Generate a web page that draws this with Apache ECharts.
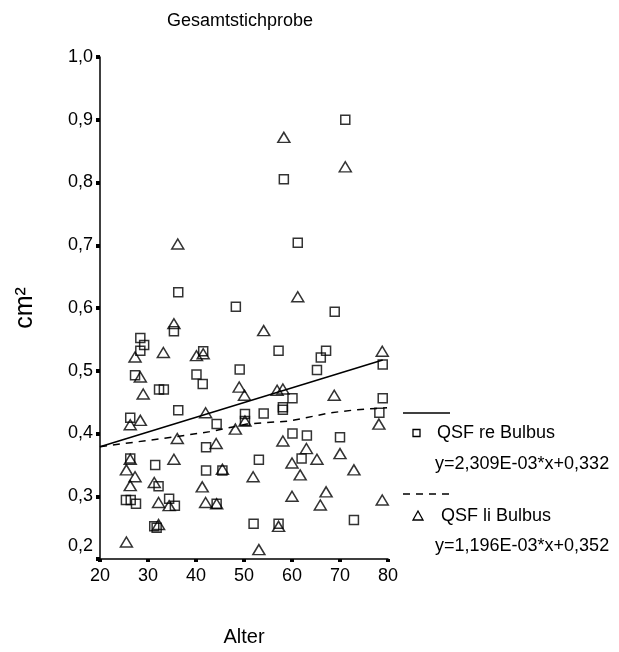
<!DOCTYPE html>
<html><head><meta charset="utf-8">
<script src="https://cdn.jsdelivr.net/npm/echarts@6/dist/echarts.min.js"></script>
<style>html,body{margin:0;padding:0;background:#fff}#c{width:619px;height:652px}</style>
</head><body><div id="c"></div>
<script>
var xTicks = [20, 30, 40, 50, 60, 70, 80];
var yTicks = [0.2, 0.3, 0.4, 0.5, 0.6, 0.7, 0.8, 0.9, 1.0];
var reBulbus = [[71.1,0.900],[58.3,0.805],[36.3,0.625],[48.3,0.602],[35.4,0.563],[28.4,0.552],[29.2,0.541],[28.4,0.532],[41.5,0.531],[49.1,0.502],[27.3,0.493],[40.1,0.494],[41.4,0.479],[32.3,0.470],[33.3,0.470],[61.2,0.704],[68.9,0.594],[57.2,0.532],[67.1,0.532],[66.0,0.521],[65.2,0.501],[78.9,0.510],[36.3,0.437],[26.3,0.425],[44.3,0.415],[50.2,0.431],[50.2,0.420],[42.1,0.378],[26.3,0.360],[31.5,0.350],[42.1,0.341],[45.5,0.341],[32.2,0.316],[25.4,0.294],[26.4,0.294],[27.5,0.288],[34.4,0.296],[35.6,0.285],[44.3,0.288],[31.3,0.252],[31.8,0.250],[60.1,0.456],[78.9,0.456],[58.1,0.442],[58.1,0.438],[54.1,0.432],[78.2,0.433],[60.1,0.400],[63.1,0.397],[70.0,0.394],[62.0,0.360],[53.1,0.358],[52.0,0.256],[57.2,0.256],[72.9,0.262]];
var liBulbus = [[58.3,0.872],[71.1,0.825],[36.2,0.702],[35.4,0.575],[27.3,0.522],[33.2,0.529],[40.1,0.524],[41.5,0.527],[28.4,0.490],[49.0,0.474],[50.1,0.461],[29.0,0.463],[26.3,0.414],[28.4,0.421],[42.0,0.433],[50.2,0.420],[48.2,0.407],[36.1,0.392],[44.2,0.384],[26.3,0.359],[35.4,0.359],[25.5,0.342],[27.3,0.331],[45.5,0.343],[26.3,0.317],[31.3,0.322],[41.3,0.315],[32.2,0.290],[34.4,0.285],[42.0,0.290],[44.3,0.288],[32.2,0.255],[25.5,0.227],[54.1,0.564],[61.2,0.618],[78.8,0.531],[56.9,0.469],[58.1,0.471],[68.8,0.461],[78.1,0.415],[58.1,0.388],[63.0,0.376],[70.0,0.368],[60.0,0.353],[65.2,0.359],[72.9,0.342],[51.9,0.331],[61.7,0.334],[67.1,0.307],[60.0,0.300],[65.9,0.286],[78.8,0.294],[57.2,0.252],[53.1,0.215]];
var fitRe = [[20,0.379],[78.9,0.517]];
var fitLi = [[20,0.379],[36.0,0.395],[42.9,0.403],[50.6,0.415],[59.6,0.420],[68.0,0.433],[73.6,0.438],[79.8,0.441]];
var legendNames = ['QSF re Bulbus', 'QSF li Bulbus'];
var legendEq = ['y=2,309E-03*x+0,332', 'y=1,196E-03*x+0,352'];

var F = 'Liberation Sans, Arial, sans-serif';
var chart = echarts.init(document.getElementById('c'), null, {renderer: 'canvas'});
function fmt(v){
  var s = v.toFixed(1).replace('.', ',');
  return Math.abs(v - yTicks[0]) < 1e-9 ? '{low|' + s + '}' : s;
}
chart.setOption({
  animation: false,
  backgroundColor: '#fff',
  title: {text: 'Gesamtstichprobe', left: 235, top: 7, textAlign: 'center',
    textStyle: {fontFamily: F, fontSize: 18, fontWeight: 'normal', color: '#000'}},
  grid: {left: 100, top: 57, width: 288, height: 504},
  xAxis: {type: 'value', min: xTicks[0], max: xTicks[xTicks.length-1], interval: 10,
    name: 'Alter', nameLocation: 'middle', nameGap: 68,
    nameTextStyle: {fontFamily: F, fontSize: 20, color: '#000'},
    axisLine: {lineStyle: {color: '#000', width: 1.5}},
    axisTick: {show: true, length: 3, lineStyle: {color: '#000', width: 4}},
    axisLabel: {fontFamily: F, fontSize: 18, color: '#000', margin: 8},
    splitLine: {show: false}},
  yAxis: {type: 'value', min: yTicks[0], max: yTicks[yTicks.length-1], interval: 0.1,
    name: 'cm²', nameLocation: 'middle', nameGap: 62, nameRotate: 90,
    nameTextStyle: {fontFamily: F, fontSize: 25, color: '#000'},
    axisLine: {show: true, lineStyle: {color: '#000', width: 1.5}},
    axisTick: {show: true, length: 4, lineStyle: {color: '#000', width: 4}},
    axisLabel: {fontFamily: F, fontSize: 18, color: '#000', margin: 7, formatter: fmt,
      rich: {low: {fontFamily: F, fontSize: 18, color: '#000', padding: [0, 0, 26, 0]}}},
    splitLine: {show: false}},
  series: [
    {type: 'line', data: fitRe, symbol: 'none', lineStyle: {color: '#000', width: 1.5}, z: 1},
    {type: 'line', data: fitLi, symbol: 'none', lineStyle: {color: '#000', width: 1.5, type: [7, 6]}, z: 1},
    {type: 'scatter', name: legendNames[0], data: reBulbus, symbol: 'rect', symbolSize: 9,
      itemStyle: {color: 'rgba(255,255,255,0)', borderColor: '#000', borderWidth: 1.5}, z: 3},
    {type: 'scatter', name: legendNames[1], data: liBulbus, symbol: 'triangle', symbolSize: [12, 10],
      itemStyle: {color: 'rgba(255,255,255,0)', borderColor: '#000', borderWidth: 1.5}, z: 3}
  ],
  graphic: [
    {type: 'line', shape: {x1: 403, y1: 413, x2: 450, y2: 413}, style: {stroke: '#000', lineWidth: 1.5}},
    {type: 'rect', shape: {x: 413, y: 429.5, width: 7, height: 7}, style: {fill: '#fff', stroke: '#000', lineWidth: 1.3}},
    {type: 'text', x: 437, y: 433, style: {text: legendNames[0], font: '18px ' + F, fill: '#000', textVerticalAlign: 'middle'}},
    {type: 'text', x: 435, y: 464, style: {text: legendEq[0], font: '18px ' + F, fill: '#000', textVerticalAlign: 'middle'}},
    {type: 'line', shape: {x1: 403, y1: 494, x2: 450, y2: 494}, style: {stroke: '#000', lineWidth: 1.5, lineDash: [7, 6]}},
    {type: 'polygon', shape: {points: [[418, 511], [413, 520], [423, 520]]}, style: {fill: '#fff', stroke: '#000', lineWidth: 1.3}},
    {type: 'text', x: 441, y: 516, style: {text: legendNames[1], font: '18px ' + F, fill: '#000', textVerticalAlign: 'middle'}},
    {type: 'text', x: 435, y: 546, style: {text: legendEq[1], font: '18px ' + F, fill: '#000', textVerticalAlign: 'middle'}}
  ]
});
</script></body></html>
